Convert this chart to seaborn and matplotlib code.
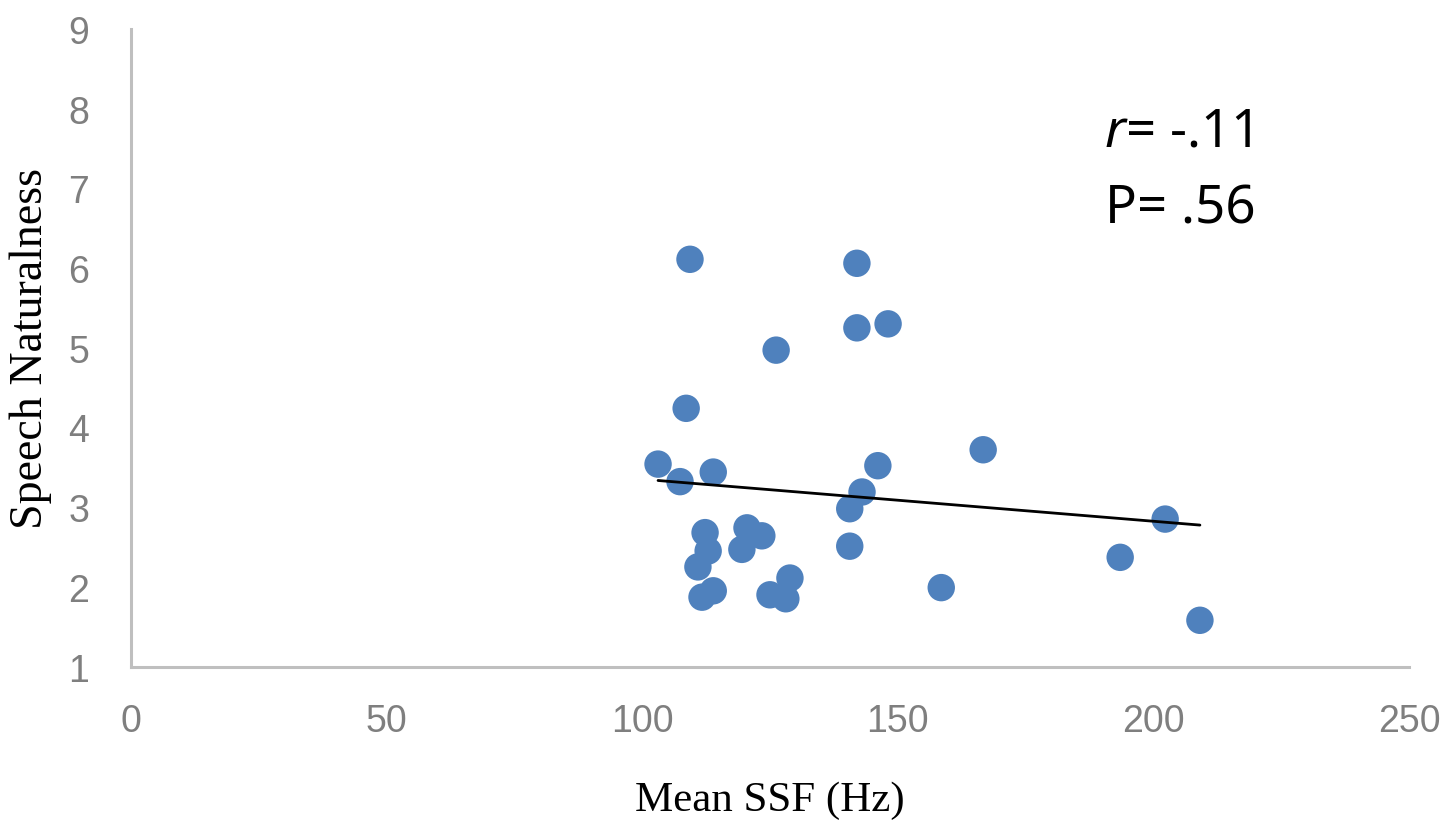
import numpy as np
import pandas as pd
import matplotlib
matplotlib.use('Agg')
import matplotlib.pyplot as plt
from matplotlib import font_manager
import seaborn as sns

# mean SSF (Hz) and speech naturalness ratings
mean_ssf = [109.35, 142.0, 142.0, 148.1, 126.2, 108.6, 103.1, 107.4, 113.9,
            146.1, 166.7, 143.0, 140.6, 140.6, 202.3, 193.5, 158.5, 209.1,
            112.3, 112.9, 110.9, 113.9, 111.7, 120.5, 123.4, 119.5, 125.0,
            128.9, 128.1]
naturalness = [6.11, 6.06, 5.25, 5.30, 4.97, 4.24, 3.54, 3.32, 3.44,
               3.52, 3.72, 3.19, 2.98, 2.51, 2.85, 2.37, 1.99, 1.58,
               2.68, 2.45, 2.25, 1.95, 1.87, 2.74, 2.64, 2.47, 1.90,
               2.11, 1.85]
x_ticks = [0, 50, 100, 150, 200, 250]
y_ticks = [1, 2, 3, 4, 5, 6, 7, 8, 9]
r_text = '= -.11'
p_text = 'P= .56'

df = pd.DataFrame({'ssf': mean_ssf, 'nat': naturalness})

sns.set_theme(style='white')
plt.rcParams['font.family'] = ['DejaVu Sans']
plt.rcParams['text.color'] = 'black'

installed = {f.name for f in font_manager.fontManager.ttflist}
tick_family = 'Liberation Sans Narrow' if 'Liberation Sans Narrow' in installed else 'Liberation Sans'

fig = plt.figure(figsize=(14.49, 8.29), dpi=100)
ax = fig.add_axes([0.0904, 0.1948, 0.882, 0.769])

sns.scatterplot(data=df, x='ssf', y='nat', ax=ax, s=390, color='#4F81BD',
                edgecolor='none', linewidth=0, zorder=3)
sns.regplot(data=df, x='ssf', y='nat', ax=ax, scatter=False, ci=None,
            truncate=True, line_kws={'color': 'black', 'lw': 2.0, 'zorder': 4})

ax.set_xlim(0, 250)
ax.set_ylim(1, 9)
ax.set_xticks(x_ticks)
ax.set_yticks(y_ticks)
ax.set_xticklabels([str(t) for t in x_ticks], family=tick_family, fontsize=27, color='#7f7f7f')
ax.set_yticklabels([str(t) for t in y_ticks], family=tick_family, fontsize=27, color='#7f7f7f')
ax.tick_params(axis='both', length=0)
ax.tick_params(axis='x', pad=26)
ax.tick_params(axis='y', pad=30)

for side in ['top', 'right']:
    ax.spines[side].set_visible(False)
for side in ['left', 'bottom']:
    ax.spines[side].set_color('#BFBFBF')
    ax.spines[side].set_linewidth(2.2)

ax.set_xlabel('Mean SSF (Hz)', family='Liberation Serif', fontsize=31, color='black', labelpad=30)
ax.set_ylabel('Speech Naturalness', family='Liberation Serif', fontsize=33, color='black')
ax.yaxis.set_label_coords(-0.062, 0.5)

ax.text(0.762, 0.8165, 'r', transform=ax.transAxes, family='Noto Sans',
        style='italic', fontsize=38, va='baseline', ha='left', color='black')
ax.text(0.7786, 0.8165, r_text, transform=ax.transAxes, family='Noto Sans',
        fontsize=38, va='baseline', ha='left', color='black')
ax.text(0.762, 0.697, p_text, transform=ax.transAxes, family='Noto Sans',
        fontsize=38, va='baseline', ha='left', color='black')

fig.savefig('out.png', dpi=100, facecolor='white')
